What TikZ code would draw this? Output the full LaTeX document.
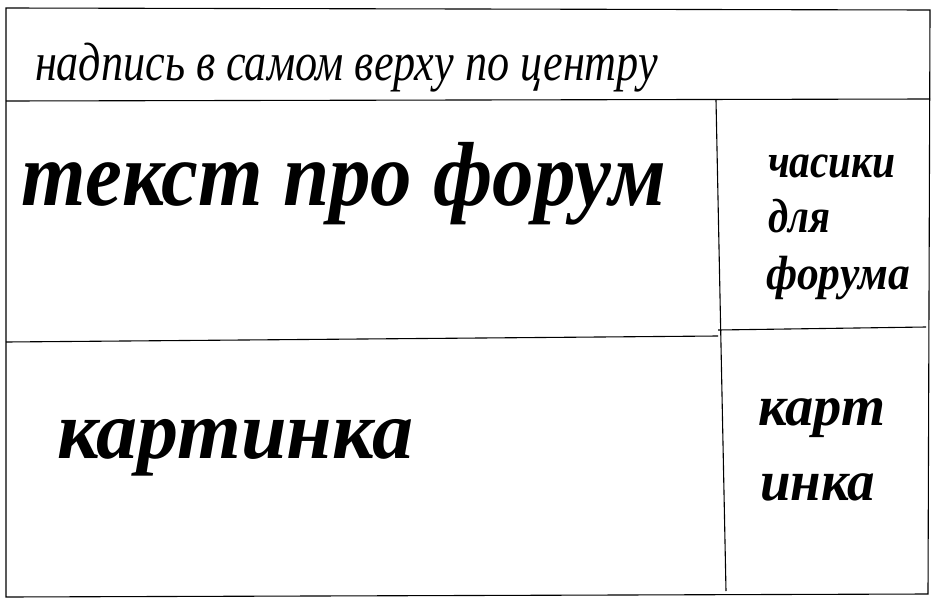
\documentclass[tikz,border=0pt]{standalone}
\usepackage{fontspec}
\setmainfont{Liberation Serif}
\usepackage{graphicx}
\tikzset{
  sketch/.style={line width=1.1pt, black},
  lbl/.style={anchor=base west, inner sep=0pt, outer sep=0pt},
}
\newcommand{\fitw}[3]{\resizebox{#1pt}{\height}{\fontsize{#2}{#2}\selectfont #3}}
\begin{document}
\begin{tikzpicture}[x=1pt,y=-1pt]
\useasboundingbox[fill=white] (0,0) rectangle (937,605);
% outer frame corners
\coordinate (tl) at (6,8);
\coordinate (tr) at (930,10);
\coordinate (bl) at (6,597);
\coordinate (br) at (928,594);
% header divider
\coordinate (hl) at (6,101);
\coordinate (hr) at (930,99);
% vertical divider
\coordinate (vt) at (716,100);
\coordinate (vb) at (726,591);
% middle dividers
\coordinate (ml) at (6,342);
\coordinate (mm) at (718,336);
\coordinate (mm2) at (718,330);
\coordinate (mr) at (926,327);

\draw[sketch] (tl) -- (tr) -- (br) -- (bl) -- cycle;
\draw[sketch] (hl) -- (hr);
\draw[sketch] (vt) -- (vb);
\draw[sketch] (ml) -- (mm);
\draw[sketch] (mm2) -- (mr);

\node[lbl] (head) at (35,80) {\fitw{623}{54}{\itshape надпись в самом верху по центру}};
\node[lbl] (forum) at (22,205) {\fitw{644}{91}{\bfseries\itshape текст про форум}};
\node[lbl] (clk1) at (768,177) {\fitw{128}{48}{\bfseries\itshape часики}};
\node[lbl] (clk2) at (768,232) {\fitw{62}{48}{\bfseries\itshape для}};
\node[lbl] (clk3) at (766,289) {\fitw{144}{48}{\bfseries\itshape форума}};
\node[lbl] (pic) at (57,458) {\fitw{356}{83}{\bfseries\itshape картинка}};
\node[lbl] (pic1) at (758,425) {\fitw{127}{57}{\bfseries\itshape карт}};
\node[lbl] (pic2) at (760,500) {\fitw{115}{57}{\bfseries\itshape инка}};
\end{tikzpicture}
\end{document}
